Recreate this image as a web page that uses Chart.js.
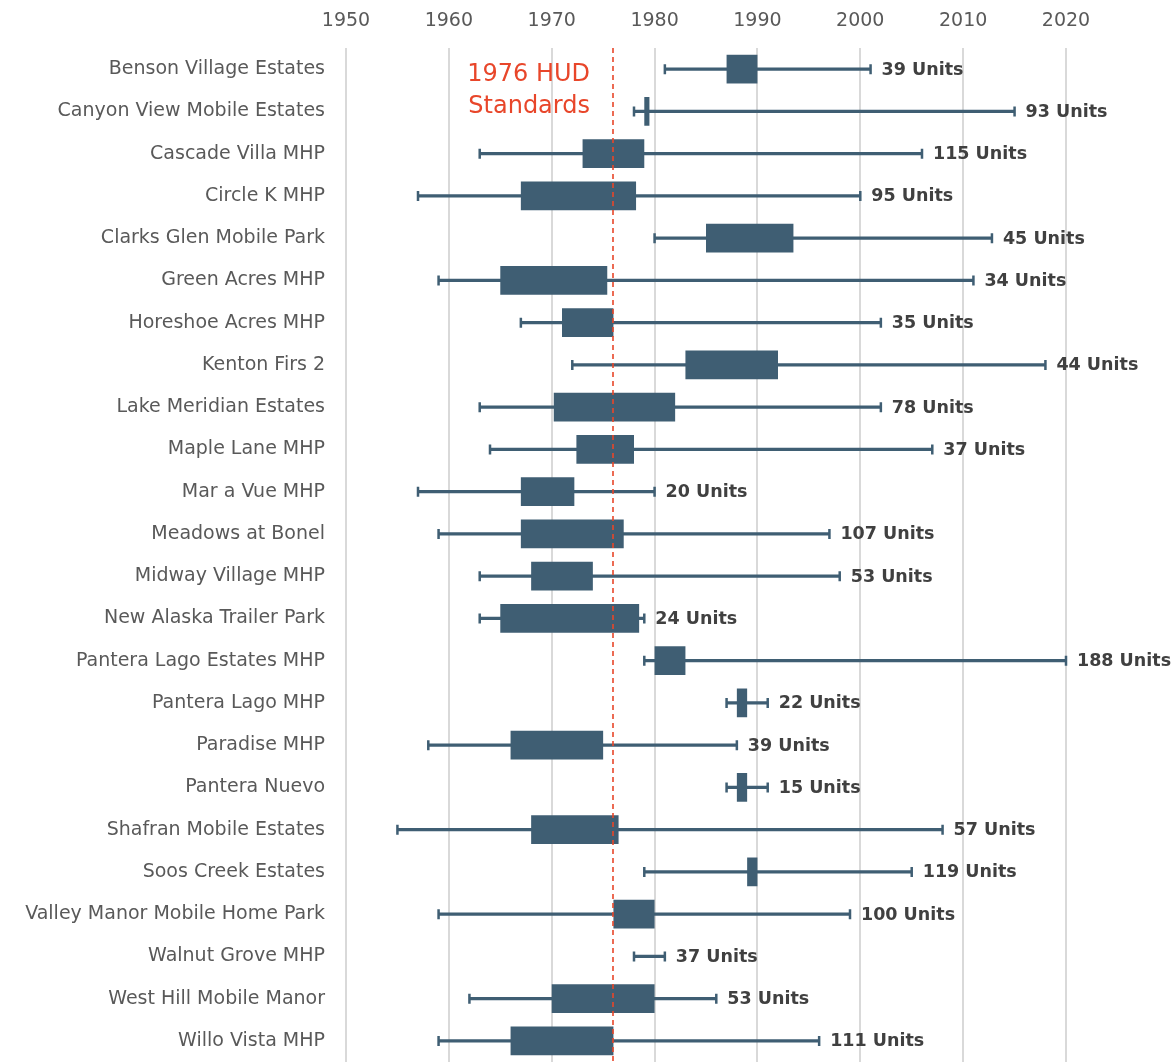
<!DOCTYPE html>
<html>
<head>
<meta charset="utf-8">
<script src="https://cdn.jsdelivr.net/npm/chart.js@4.4.1/dist/chart.umd.min.js"></script>
<style>
  html, body { margin: 0; padding: 0; background: #fff; overflow: hidden; }
  canvas { display: block; }
</style>
</head>
<body>
<canvas id="boxChart" width="1176" height="1064"></canvas>
<script>
const parks = [
    'Benson Village Estates', 'Canyon View Mobile Estates', 'Cascade Villa MHP', 'Circle K MHP',
    'Clarks Glen Mobile Park', 'Green Acres MHP', 'Horeshoe Acres MHP', 'Kenton Firs 2',
    'Lake Meridian Estates', 'Maple Lane MHP', 'Mar a Vue MHP', 'Meadows at Bonel',
    'Midway Village MHP', 'New Alaska Trailer Park', 'Pantera Lago Estates MHP', 'Pantera Lago MHP',
    'Paradise MHP', 'Pantera Nuevo', 'Shafran Mobile Estates', 'Soos Creek Estates',
    'Valley Manor Mobile Home Park', 'Walnut Grove MHP', 'West Hill Mobile Manor', 'Willo Vista MHP'
];
const minYear = [1981, 1978, 1963, 1957, 1980, 1959, 1967, 1972, 1963, 1964, 1957, 1959,
                 1963, 1963, 1979, 1987, 1958, 1987, 1955, 1979, 1959, 1978, 1962, 1959];
const q1Year  = [1987, 1979, 1973, 1967, 1985, 1965, 1971, 1983, 1970.2, 1972.4, 1967, 1967,
                 1968, 1965, 1980, 1988, 1966, 1988, 1968, 1989, 1976, null, 1970, 1966];
const q3Year  = [1990, 1979.5, 1979, 1978.2, 1993.5, 1975.4, 1976, 1992, 1982, 1978, 1972.2, 1977,
                 1974, 1978.5, 1983, 1989, 1975, 1989, 1976.5, 1990, 1980, null, 1980, 1976];
const maxYear = [2001, 2015, 2006, 2000, 2012.8, 2011, 2002, 2018, 2002, 2007, 1980, 1997,
                 1998, 1979, 2020, 1991, 1988, 1991, 2008, 2005, 1999, 1981, 1986, 1996];
const units   = [39, 93, 115, 95, 45, 34, 35, 44, 78, 37, 20, 107,
                 53, 24, 188, 22, 39, 15, 57, 119, 100, 37, 53, 111];
const yearTicks = [1950, 1960, 1970, 1980, 1990, 2000, 2010, 2020];
const hudYear = 1976;
const hudText = ['1976 HUD', 'Standards'];

const FONT = "'DejaVu Sans', sans-serif";
const BOX_COLOR = '#3f5e73';
const HUD_COLOR = '#e8462a';

// whisker caps, unit labels and the HUD marker line
const extrasPlugin = {
    id: 'extras',
    afterDatasetsDraw(chart) {
        const { ctx, chartArea, scales: { x, y } } = chart;
        ctx.save();
        ctx.strokeStyle = BOX_COLOR;
        ctx.lineWidth = 2.5;
        ctx.font = 'bold 17.5px ' + FONT;
        ctx.fillStyle = '#404040';
        ctx.textBaseline = 'middle';
        ctx.textAlign = 'left';
        parks.forEach((p, i) => {
            const cy = y.getPixelForValue(i);
            const x1 = x.getPixelForValue(minYear[i]);
            const x2 = x.getPixelForValue(maxYear[i]);
            ctx.beginPath();
            ctx.moveTo(x1, cy - 5); ctx.lineTo(x1, cy + 5);
            ctx.moveTo(x2, cy - 5); ctx.lineTo(x2, cy + 5);
            ctx.stroke();
            ctx.fillText(units[i] + ' Units', x2 + 11, cy + 1);
        });

        const hx = Math.round(x.getPixelForValue(hudYear));
        ctx.strokeStyle = HUD_COLOR;
        ctx.lineWidth = 1.6;
        ctx.setLineDash([5, 4]);
        ctx.beginPath();
        ctx.moveTo(hx, chartArea.top);
        ctx.lineTo(hx, chartArea.bottom);
        ctx.stroke();
        ctx.setLineDash([]);

        ctx.fillStyle = HUD_COLOR;
        ctx.font = '24px ' + FONT;
        ctx.textAlign = 'right';
        ctx.fillText(hudText[0], hx - 23, chartArea.top + 27);
        ctx.fillText(hudText[1], hx - 23, chartArea.top + 59);
        ctx.restore();
    }
};

const ctx = document.getElementById('boxChart').getContext('2d');
const boxChart = new Chart(ctx, {
    type: 'bar',
    data: {
        labels: parks,
        datasets: [{
            label: 'Box',
            data: parks.map((p, i) => q1Year[i] === null ? null : [q1Year[i], q3Year[i]]),
            backgroundColor: BOX_COLOR,
            borderWidth: 0,
            barPercentage: 0.68,
            categoryPercentage: 1,
            grouped: false,
            order: 0
        }, {
            label: 'Range',
            data: parks.map((p, i) => [minYear[i], maxYear[i]]),
            backgroundColor: BOX_COLOR,
            borderWidth: 0,
            barThickness: 2.5,
            grouped: false,
            order: 1
        }]
    },
    options: {
        indexAxis: 'y',
        responsive: false,
        animation: false,
        layout: { padding: { right: 110, bottom: 2, top: 0, left: 0 } },
        plugins: {
            legend: { display: false },
            tooltip: { enabled: false }
        },
        scales: {
            x: {
                type: 'linear',
                position: 'top',
                min: 1950,
                max: 2020,
                afterBuildTicks: scale => { scale.ticks = yearTicks.map(v => ({ value: v })); },
                afterFit: scale => { scale.height = 48; },
                ticks: {
                    callback: v => String(v),
                    color: '#595959',
                    font: { family: FONT, size: 19 },
                    padding: 16
                },
                grid: { color: '#d9d9d9', lineWidth: 2, drawTicks: false },
                border: { display: false }
            },
            y: {
                afterFit: scale => {
                    scale.width = 346;
                    scale.paddingTop = 0;
                    scale.paddingBottom = 0;
                },
                ticks: {
                    color: '#595959',
                    font: { family: FONT, size: 19 },
                    padding: 13
                },
                grid: { display: false },
                border: { display: false }
            }
        }
    },
    plugins: [extrasPlugin]
});
</script>
</body>
</html>
